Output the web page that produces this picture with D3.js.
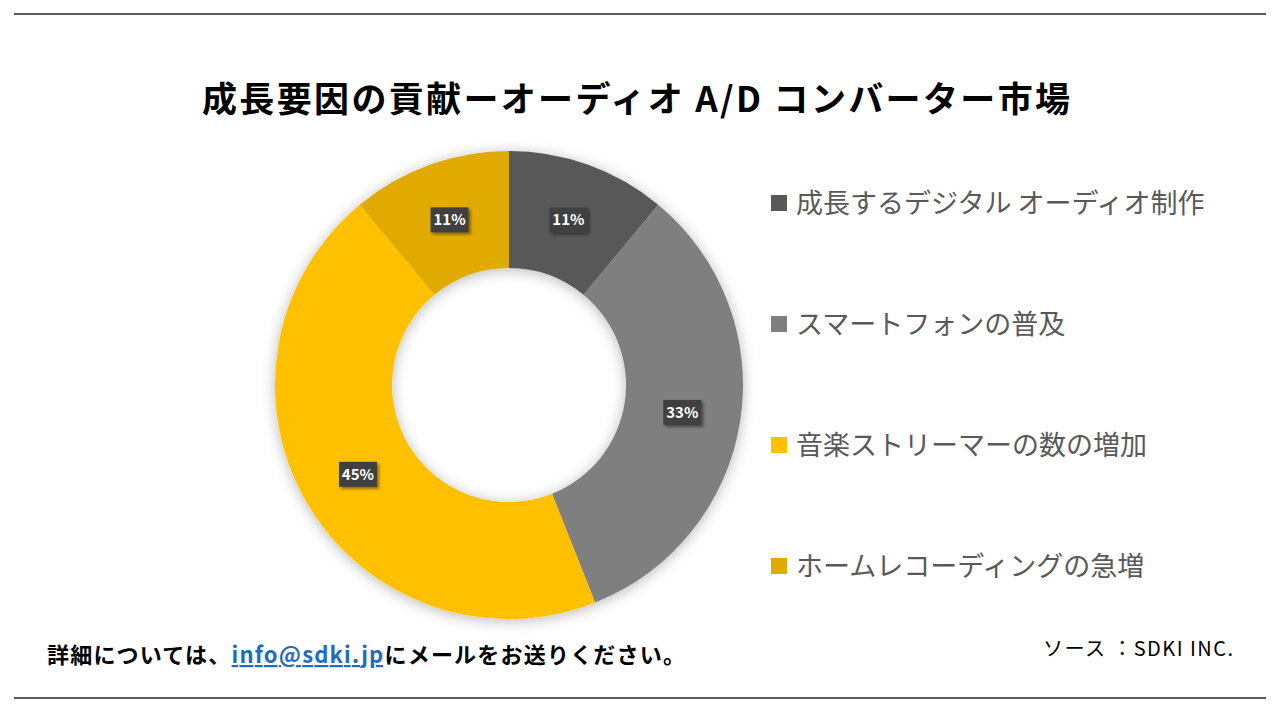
<!DOCTYPE html>
<html>
<head>
<meta charset="utf-8">
<script src="https://cdn.jsdelivr.net/npm/d3@7"></script>
<style>
  body { margin: 0; background: #fff; }
  svg { display: block; font-family: "Noto Sans CJK JP", "Noto Sans", sans-serif; }
</style>
</head>
<body>
<svg id="chart" width="1280" height="720"></svg>
<script>
// data
const categories = ["成長するデジタル オーディオ制作", "スマートフォンの普及", "音楽ストリーマーの数の増加", "ホームレコーディングの急増"];
const values = [11, 33, 45, 11];
const colors = ["#595959", "#7f7f7f", "#ffc000", "#e0aa00"];

const svg = d3.select("#chart");

// filters
let defs = svg.append("defs");
let sh = defs.append("filter").attr("id", "pieShadow").attr("x", "-20%").attr("y", "-20%").attr("width", "140%").attr("height", "140%");
sh.append("feDropShadow").attr("dx", 0).attr("dy", 2).attr("stdDeviation", 7).attr("flood-color", "#000").attr("flood-opacity", 0.28);
let lsh = defs.append("filter").attr("id", "lblShadow").attr("x", "-30%").attr("y", "-30%").attr("width", "170%").attr("height", "170%");
lsh.append("feDropShadow").attr("dx", 2).attr("dy", 2).attr("stdDeviation", 1.5).attr("flood-color", "#000").attr("flood-opacity", 0.45);

// frame lines
svg.append("line").attr("x1", 14).attr("x2", 1266).attr("y1", 14).attr("y2", 14)
    .attr("stroke", "#595959").attr("stroke-width", 2);
svg.append("line").attr("x1", 14).attr("x2", 1266).attr("y1", 698).attr("y2", 698)
    .attr("stroke", "#595959").attr("stroke-width", 2);

// title
svg.append("text").attr("x", 636).attr("y", 112).attr("text-anchor", "middle")
    .attr("font-size", 35).attr("font-weight", "bold").attr("fill", "#000")
    .attr("textLength", 868).attr("lengthAdjust", "spacing")
    .text("成長要因の貢献ーオーディオ A/D コンバーター市場");

// donut
const cx = 509, cy = 385, rOut = 234, rIn = 117;
const pie = d3.pie().sort(null).value(d => d);
const arcs = pie(values);
const arc = d3.arc().innerRadius(rIn).outerRadius(rOut);

let g = svg.append("g").attr("transform", "translate(" + cx + "," + cy + ")");
g.append("g").attr("filter", "url(#pieShadow)")
    .selectAll("path").data(arcs).enter().append("path")
    .attr("d", arc)
    .attr("fill", (d, i) => colors[i]);

// labels
const labelArc = d3.arc().innerRadius((rIn + rOut) / 2).outerRadius((rIn + rOut) / 2);
let lbl = g.selectAll(".lbl").data(arcs).enter().append("g")
    .attr("class", "lbl")
    .attr("transform", d => "translate(" + labelArc.centroid(d) + ")");
lbl.append("rect").attr("x", -19).attr("y", -12.5).attr("width", 38).attr("height", 25)
    .attr("fill", "#404040").attr("filter", "url(#lblShadow)");
lbl.append("text").attr("text-anchor", "middle").attr("dy", "0.35em")
    .attr("font-size", 15).attr("font-weight", "bold").attr("fill", "#fff")
    .text(d => d.data + "%");

// legend
const legY = d3.scalePoint().domain(categories).range([203, 566]);
let leg = svg.selectAll(".leg").data(categories).enter().append("g")
    .attr("class", "leg")
    .attr("transform", d => "translate(771," + legY(d) + ")");
leg.append("rect").attr("x", 0).attr("y", -8).attr("width", 16).attr("height", 16)
    .attr("fill", (d, i) => colors[i]);
leg.append("text").attr("x", 25).attr("dy", "0.36em")
    .attr("font-size", 27).attr("fill", "#595959")
    .text(d => d);

// footer
let foot = svg.append("text").attr("x", 47).attr("y", 663)
    .attr("font-size", 22).attr("font-weight", "bold").attr("fill", "#000")
    .attr("textLength", 638).attr("lengthAdjust", "spacing");
foot.append("tspan").text("詳細については、");
foot.append("tspan").attr("fill", "#1f6bbf").attr("text-decoration", "underline").text("info@sdki.jp");
foot.append("tspan").text("にメールをお送りください。");

svg.append("text").attr("x", 1043).attr("y", 656)
    .attr("font-size", 20).attr("fill", "#000")
    .attr("textLength", 190).attr("lengthAdjust", "spacing")
    .text("ソース ：SDKI INC.");
</script>
</body>
</html>
